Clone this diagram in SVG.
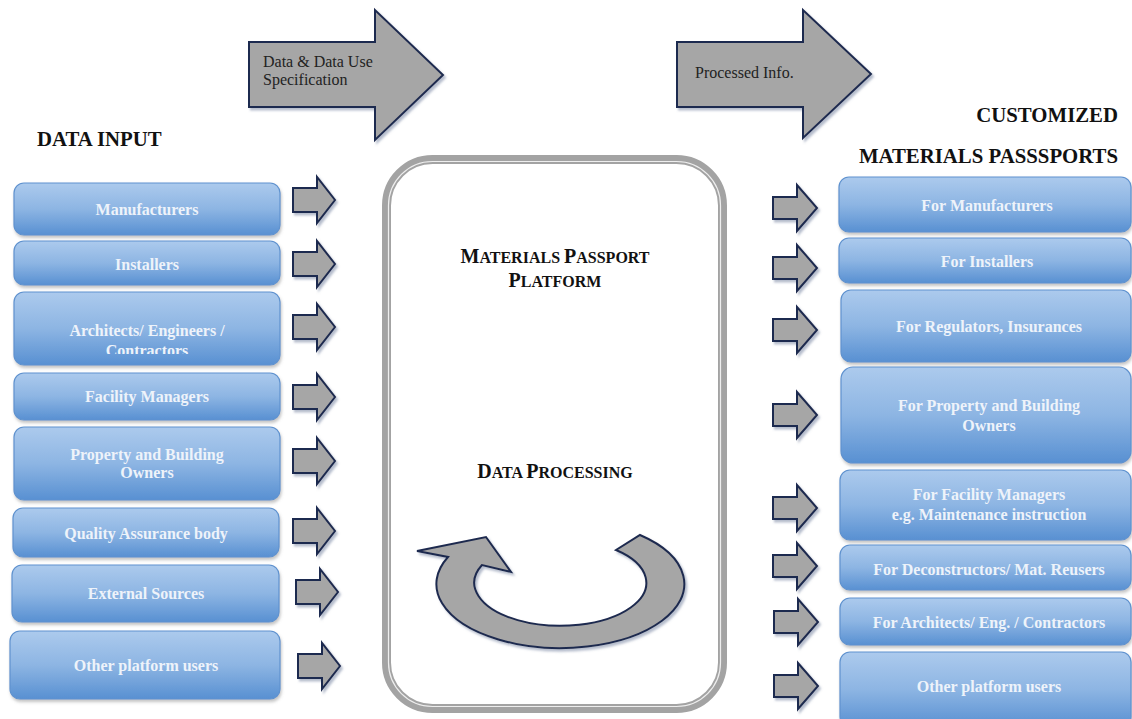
<svg xmlns="http://www.w3.org/2000/svg" width="1132" height="719" viewBox="0 0 1132 719">
<style>
.box{fill:url(#blue);stroke:#5f92cf;stroke-width:1.2;filter:url(#sh)}
.bt{font-family:"Liberation Serif","Times New Roman",serif;font-weight:bold;font-size:16px;fill:#eef3fa;text-anchor:middle}
.hd{font-family:"Liberation Serif","Times New Roman",serif;font-weight:bold;font-size:20.8px;fill:#111}
.ct{font-family:"Liberation Serif","Times New Roman",serif;font-weight:bold;fill:#111;text-anchor:middle}
.at{font-family:"Liberation Serif","Times New Roman",serif;font-size:16px;fill:#222}
.garrow{fill:#a6a6a6;stroke:#1f2a4f;stroke-width:2;stroke-linejoin:miter;filter:url(#sh2)}
</style>
<defs>
<linearGradient id="blue" x1="0" y1="0" x2="0" y2="1">
<stop offset="0" stop-color="#accaed"/>
<stop offset="0.5" stop-color="#8db5e3"/>
<stop offset="1" stop-color="#5890d2"/>
</linearGradient>
<filter id="sh" x="-5%" y="-10%" width="110%" height="130%">
<feDropShadow dx="1" dy="2.5" stdDeviation="1.5" flood-color="#7a7a7a" flood-opacity="0.45"/>
</filter>
<filter id="sh2" x="-10%" y="-10%" width="130%" height="130%">
<feDropShadow dx="2" dy="2.5" stdDeviation="1.2" flood-color="#6b7a99" flood-opacity="0.5"/>
</filter>
<path id="sa" class="garrow" d="M0,-12 H24 V-23 L42,0 L24,23 V12 H0 Z"/>
<path id="sar" class="garrow" d="M0,-11 H24 V-23 L44,0 L24,23 V11 H0 Z"/>
<clipPath id="clipArch"><rect x="14" y="292" width="266" height="62"/></clipPath>
</defs>
<rect width="1132" height="719" fill="#ffffff"/>

<g id="flow-in">
<path class="garrow" d="M249,42 H375 V10 L443,75 L375,140 V107 H249 Z"/>
<text class="at" x="263" y="67">Data &amp; Data Use</text>
<text class="at" x="263" y="85">Specification</text>
</g>
<g id="flow-out">
<path class="garrow" d="M677,42 H803 V10 L871,74 L803,138 V107 H677 Z"/>
<text class="at" x="695" y="78" font-size="15">Processed Info.</text>
</g>

<g id="headers">
<text class="hd" x="37" y="146">DATA INPUT</text>
<text class="hd" x="1118" y="122" text-anchor="end">CUSTOMIZED</text>
<text class="hd" x="1118" y="163" text-anchor="end">MATERIALS PASSSPORTS</text>
</g>

<g id="platform">
<rect x="386.5" y="159.5" width="336" height="549" rx="46" fill="#ffffff" stroke="#a3a3a3" stroke-width="9"/>
<rect x="388.5" y="161.5" width="332" height="545" rx="44" fill="none" stroke="#eeeeee" stroke-width="1.2"/>
<text class="ct" x="555" y="263" font-size="20">M<tspan font-size="16">ATERIALS </tspan>P<tspan font-size="16">ASSPORT</tspan></text>
<text class="ct" x="555" y="287" font-size="20">P<tspan font-size="16">LATFORM</tspan></text>
<text class="ct" x="555" y="478" font-size="20">D<tspan font-size="16">ATA </tspan>P<tspan font-size="16">ROCESSING</tspan></text>
<path class="garrow" d="M640,535 A124,64 0 1 1 448,557 L417,551 L486,537 L511,572 L482,565 A86,43 0 1 0 616,550 Z"/>
</g>

<g id="in-manufacturers"><rect class="box" x="14" y="183" width="266" height="52" rx="10"/><text class="bt" x="147" y="215">Manufacturers</text></g>
<g id="in-installers"><rect class="box" x="14" y="241" width="266" height="44" rx="10"/><text class="bt" x="147" y="270">Installers</text></g>
<g id="in-architects"><rect class="box" x="14" y="292" width="266" height="73" rx="10"/><text class="bt" x="147" y="336">Architects/ Engineers /</text><text class="bt" x="147" y="356" clip-path="url(#clipArch)">Contractors</text></g>
<g id="in-facility"><rect class="box" x="14" y="373" width="266" height="47" rx="10"/><text class="bt" x="147" y="402">Facility Managers</text></g>
<g id="in-property"><rect class="box" x="14" y="427" width="266" height="73" rx="10"/><text class="bt" x="147" y="460">Property and Building</text><text class="bt" x="147" y="478">Owners</text></g>
<g id="in-quality"><rect class="box" x="13" y="508" width="266" height="49" rx="10"/><text class="bt" x="146" y="539">Quality Assurance body</text></g>
<g id="in-external"><rect class="box" x="12" y="565" width="267" height="57" rx="10"/><text class="bt" x="146" y="599">External Sources</text></g>
<g id="in-other"><rect class="box" x="10" y="631" width="270" height="68" rx="10"/><text class="bt" x="146" y="671">Other platform users</text></g>

<g id="out-manufacturers"><rect class="box" x="839" y="177" width="292" height="55" rx="10"/><text class="bt" x="987" y="211">For Manufacturers</text></g>
<g id="out-installers"><rect class="box" x="839" y="238" width="292" height="45" rx="10"/><text class="bt" x="987" y="267">For Installers</text></g>
<g id="out-regulators"><rect class="box" x="841" y="290" width="290" height="72" rx="10"/><text class="bt" x="989" y="332">For Regulators, Insurances</text></g>
<g id="out-property"><rect class="box" x="841" y="367" width="290" height="96" rx="12"/><text class="bt" x="989" y="411">For Property and Building</text><text class="bt" x="989" y="431">Owners</text></g>
<g id="out-facility"><rect class="box" x="840" y="470" width="291" height="70" rx="10"/><text class="bt" x="989" y="500">For Facility Managers</text><text class="bt" x="989" y="520">e.g. Maintenance instruction</text></g>
<g id="out-deconstructors"><rect class="box" x="840" y="545" width="291" height="45" rx="10"/><text class="bt" x="989" y="575">For Deconstructors/ Mat. Reusers</text></g>
<g id="out-architects"><rect class="box" x="840" y="598" width="291" height="47" rx="10"/><text class="bt" x="989" y="628">For Architects/ Eng. / Contractors</text></g>
<g id="out-other"><rect class="box" x="840" y="652" width="291" height="75" rx="10"/><text class="bt" x="989" y="692">Other platform users</text></g>

<g id="connectors">
<use href="#sa" x="293" y="200"/>
<use href="#sa" x="293" y="264"/>
<use href="#sa" x="293" y="327"/>
<use href="#sa" x="293" y="397"/>
<use href="#sa" x="293" y="461"/>
<use href="#sa" x="293" y="531"/>
<use href="#sa" x="296" y="592"/>
<use href="#sa" x="298" y="666"/>
<use href="#sar" x="773" y="208"/>
<use href="#sar" x="773" y="268"/>
<use href="#sar" x="773" y="330"/>
<use href="#sar" x="773" y="415"/>
<use href="#sar" x="773" y="508"/>
<use href="#sar" x="773" y="566"/>
<use href="#sar" x="774" y="622"/>
<use href="#sar" x="774" y="686"/>
</g>
</svg>
